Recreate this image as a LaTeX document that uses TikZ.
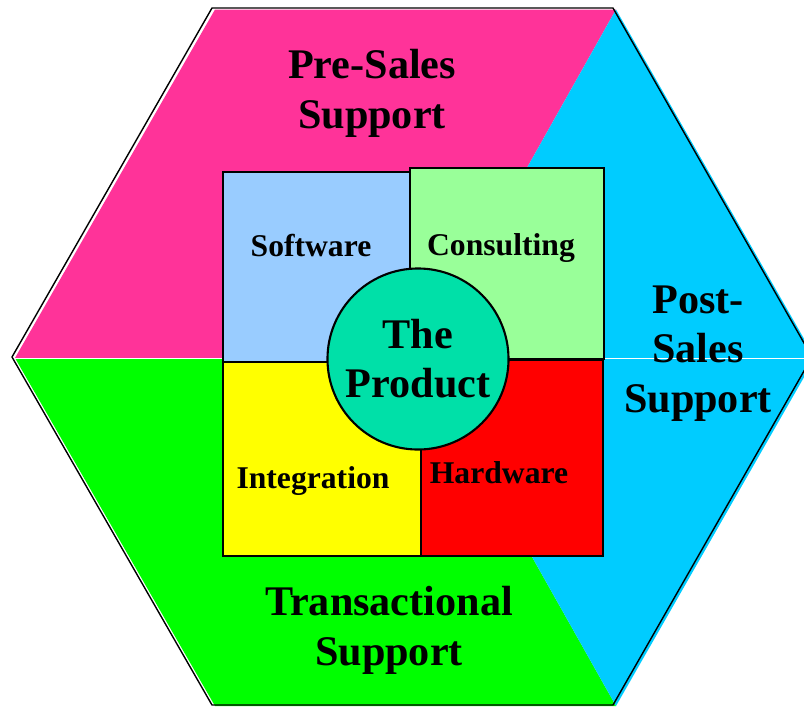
\documentclass[tikz,border=0pt]{standalone}
\usepackage{fontspec}
\setmainfont{Liberation Serif}
\usetikzlibrary{positioning}

\definecolor{presales}{HTML}{FF3399}
\definecolor{postsales}{HTML}{00CCFF}
\definecolor{transact}{HTML}{00FF00}
\definecolor{software}{HTML}{99CCFF}
\definecolor{consulting}{HTML}{99FF99}
\definecolor{integration}{HTML}{FFFF00}
\definecolor{hardware}{HTML}{FF0000}
\definecolor{product}{HTML}{00E0A8}

\begin{document}
\begin{tikzpicture}[x=0.025cm,y=-0.025cm,
    tile/.style={draw,line width=1.5pt},
    big/.style={font=\bfseries\fontsize{30}{35}\selectfont,align=center},
    small/.style={font=\bfseries\fontsize{22.5}{26}\selectfont,anchor=base}]
  \useasboundingbox (0,0) rectangle (804,706);

  % outer hexagon, four coloured parts
  \fill[presales] (15,358) -- (215,9.5) -- (616,9.5) -- (420,358) -- cycle;
  \fill[postsales] (616,9.5) -- (815,358) -- (420,358) -- cycle;
  \fill[transact] (15,358) -- (215,706) -- (616,706) -- (420,358) -- cycle;
  \fill[postsales] (815,358) -- (616,706) -- (420,358) -- cycle;
  \draw[white,line width=0.6pt] (15,358) -- (815,358);
  \draw[line width=1pt,line join=round]
    (12,357) -- (212,8) -- (613,8) -- (812,357) -- (613,705) -- (212,705) -- cycle;

  % the four tiles
  \draw[tile,fill=software] (223,172) rectangle (410,362);
  \draw[tile,fill=consulting] (410,168) rectangle (604,359);
  \draw[tile,fill=integration] (223,362) rectangle (421,556);
  \draw[tile,fill=hardware] (421,360) rectangle (603,556);

  \node[small] (sw) at (311,256) {Software};
  \node[small] (cons) at (501,255) {Consulting};
  \node[small] (integ) at (313,488) {Integration};
  \node[small] (hw) at (499,483) {Hardware};

  % centre
  \node[circle,tile,fill=product,minimum size=4.525cm,inner sep=0pt,big]
    (prod) at (418,359) {The\\Product};

  % ring labels (base = last line)
  \node[big,anchor=base] (pre) at (372,128) {Pre-Sales\\Support};
  \node[big,anchor=base] (post) at (698,412) {Post-\\Sales\\Support};
  \node[big,anchor=base] (trans) at (389,665) {Transactional\\Support};
\end{tikzpicture}
\end{document}
